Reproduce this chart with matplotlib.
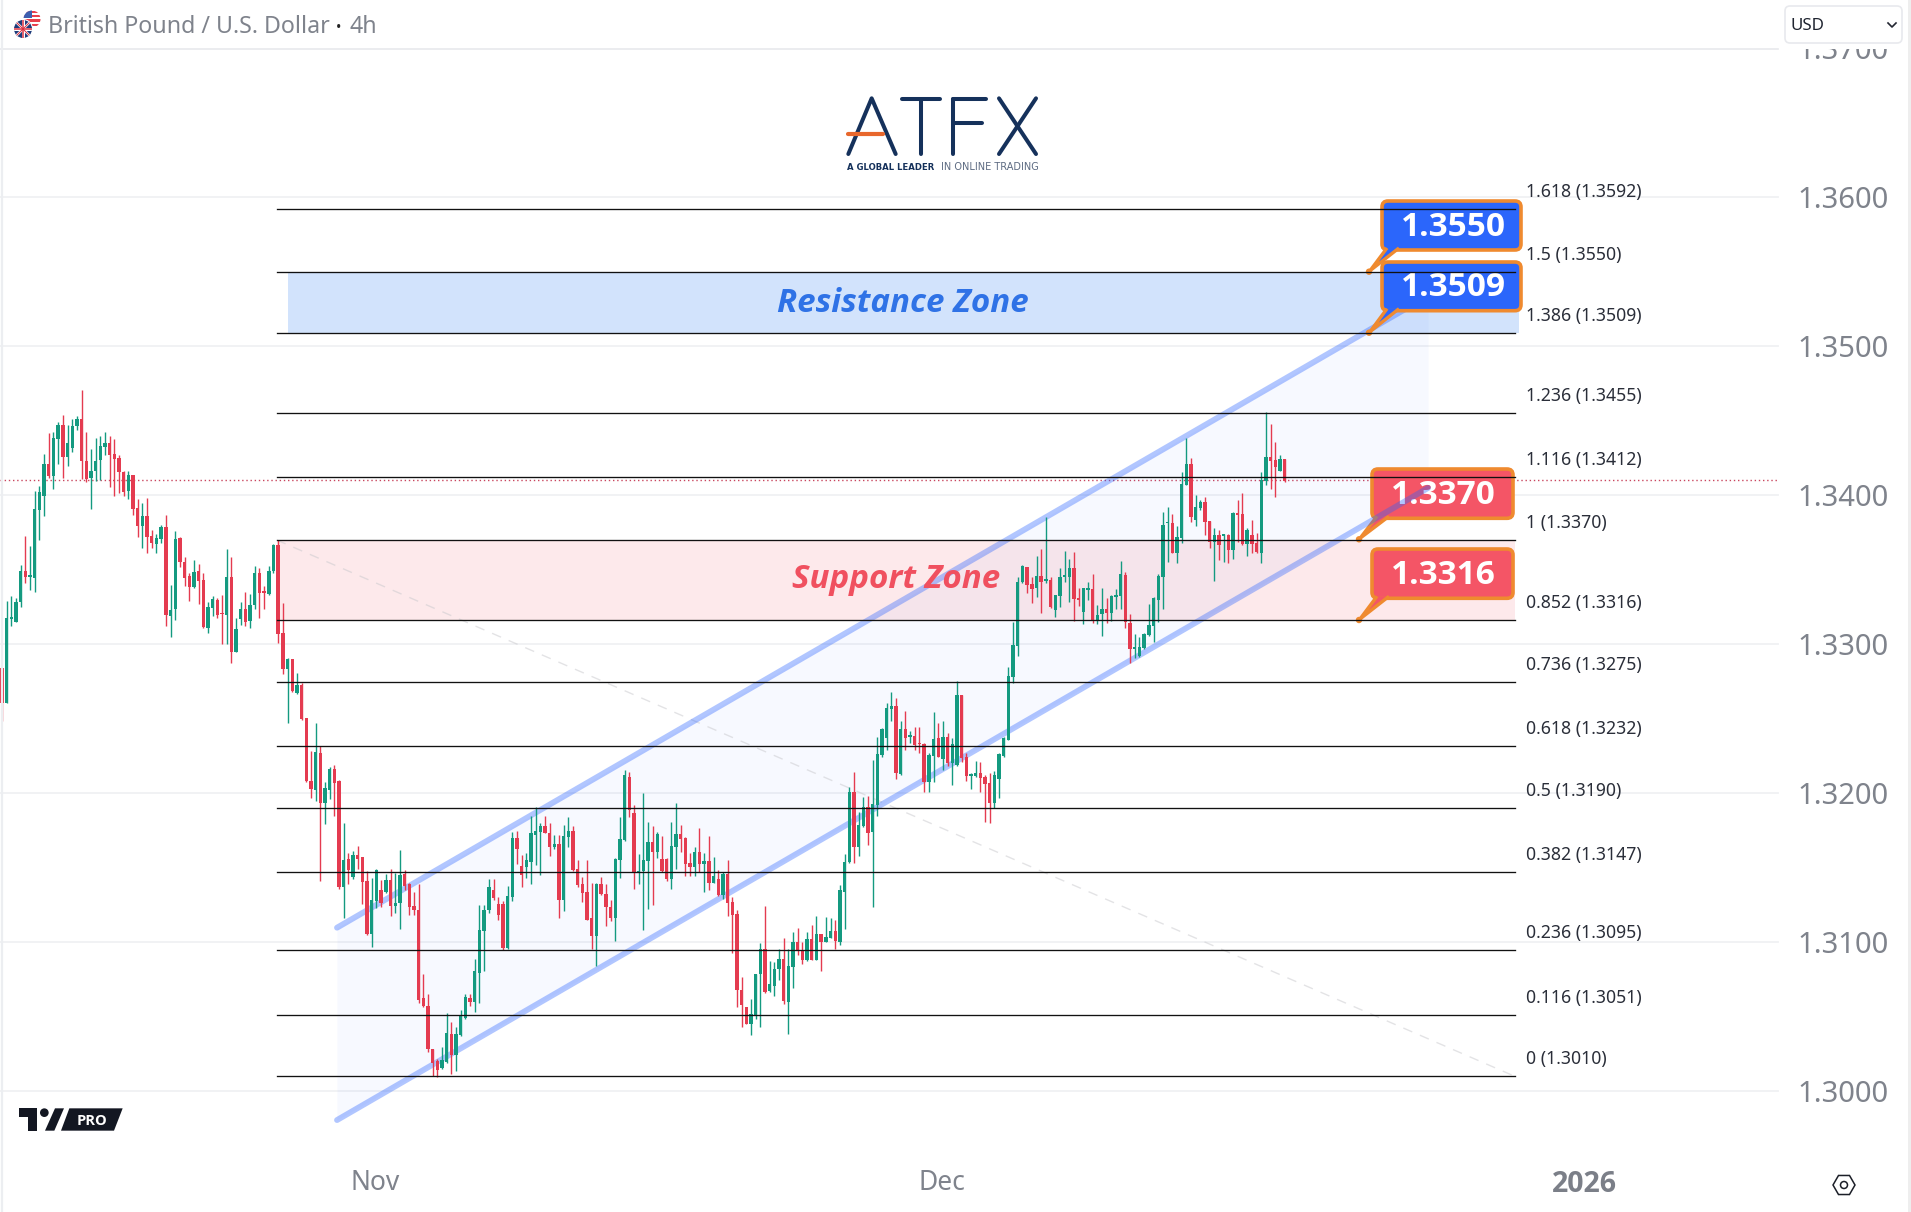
import numpy as np
import matplotlib
matplotlib.use("Agg")
import matplotlib.pyplot as plt
from matplotlib.patches import FancyBboxPatch, Polygon, Circle, Rectangle
from matplotlib.transforms import Affine2D

plt.rcParams['font.family'] = ['Noto Sans', 'DejaVu Sans']

# ---- candle values, in 1/100000 of a dollar ----
body_top = [
132840,133175,133182,133283,133489,133489,133455,133905,134025,134212,
134212,134382,134474,134474,134348,134465,134511,134511,134231,134166,
134231,134332,134354,134351,134280,134252,134157,134138,134138,133914,
133858,133858,133729,133711,133785,133785,133231,133708,133711,133551,
133458,133486,133495,133431,133249,133302,133298,133209,133455,133455,
133102,133240,133234,133262,133477,133477,133351,133495,133668,133668,
133074,132898,132898,132726,132726,132508,132083,132277,132271,132034,
132166,132166,132083,131554,131557,131585,131585,131572,131412,131283,
131486,131348,131415,131415,131261,131452,131458,131391,131243,131215,
130625,130575,130284,130201,130212,130394,130387,130387,130515,130634,
130629,130806,131082,131216,131371,131350,131256,131256,131310,131702,
131702,131512,131552,131731,131747,131783,131783,131736,131660,131657,
131713,131747,131745,131489,131391,131337,131160,131393,131391,131324,
131234,131559,131693,132123,132112,131870,131476,131552,131671,131671,
131727,131559,131559,131646,131727,131727,131702,131532,131606,131606,
131543,131543,131444,131422,131458,131458,131272,131189,130683,130566,
130522,130786,130952,130952,130719,130820,130887,130887,130840,131001,
131001,130947,131021,131021,131055,131055,131037,131073,131073,131350,
131536,132007,132007,131787,131906,131906,131926,132264,132432,132571,
132587,132587,132430,132430,132392,132385,132334,132332,132258,132367,
132370,132376,132376,132332,132661,132661,132246,132125,132139,132139,
132112,132067,132123,132264,132374,132788,132996,133421,133528,133517,
133405,133459,133459,133432,133430,133329,133454,133456,133510,133510,
133304,133376,133374,133369,133197,133237,133235,133324,133331,133472,
133465,133146,132984,132982,133067,133130,133309,133461,133801,133819,
133814,133720,134078,134210,134210,133919,133957,133957,133830,133734,
133734,133734,133734,133884,133875,133875,133767,133734,133678,134103,
134259,134255,134237,134242,134242]
body_bottom = [
132606,132606,133172,133148,133283,133449,133452,133443,133898,133994,
134129,134129,134375,134258,134258,134320,134462,134228,134111,134114,
134160,134234,134323,134268,134246,134154,134025,134031,133911,133794,
133791,133723,133683,133671,133705,133200,133188,133237,133551,133443,
133382,133382,133425,133114,133108,133243,133200,133203,133200,132951,
132951,133169,133148,133154,133262,133342,133345,133338,133489,133071,
132831,132837,132686,132674,132502,132083,132031,132025,131938,131938,
132021,132068,131369,131369,131486,131437,131560,131406,131058,131058,
131277,131261,131338,131246,131243,131261,131378,131237,131215,130615,
130575,130283,130190,130141,130156,130197,130246,130242,130380,130492,
130598,130600,130795,131075,131216,131294,131182,130965,130965,131306,
131626,131451,131503,131539,131722,131740,131736,131637,131637,131283,
131283,131704,131483,131384,131332,131153,131044,131044,131324,131234,
131164,131164,131552,131686,131888,131462,131467,131476,131545,131604,
131606,131478,131422,131422,131639,131693,131525,131507,131507,131525,
131525,131400,131400,131317,131317,131265,131182,130678,130578,130454,
130454,130510,130786,130667,130672,130708,130820,130607,130600,130835,
130947,130884,130880,130884,130884,131003,131003,131032,131008,131003,
131339,131536,131642,131642,131780,131736,131740,131922,132258,132374,
132569,132139,132130,132374,132381,132325,132329,132078,132074,132253,
132246,132228,132202,132202,132190,132235,132119,132119,132116,132103,
132063,131933,131933,132094,132253,132358,132783,132989,133421,133398,
133371,133376,133421,133425,133253,133230,133324,133452,133450,133302,
133300,133219,133365,133157,133157,133204,133208,133213,133320,133327,
133148,132971,132971,132922,132975,133060,133125,133298,133454,133814,
133615,133615,133714,134072,133857,133834,133917,133823,133689,133689,
133667,133727,133633,133633,133870,133673,133673,133673,133617,133615,
134096,134233,134192,134166,134096]
high = [
132840,133292,133323,133308,133532,133729,133662,134031,134062,134277,
134415,134425,134492,134542,134474,134511,134535,134708,134425,134308,
134385,134400,134425,134400,134378,134271,134160,134160,134138,133975,
133945,133982,133769,133742,133800,133871,133397,133760,133717,133585,
133477,133569,133538,133477,133283,133323,133311,133332,133637,133588,
133175,133286,133351,133338,133526,133514,133388,133526,133674,133698,
133280,132911,132901,132806,132738,132508,132283,132471,132317,132077,
132178,132191,132092,131803,131600,131612,131649,131575,131477,131431,
131492,131415,131458,131492,131468,131618,131483,131397,131338,131391,
130785,130652,130284,130219,130298,130528,130466,130432,130544,130656,
130656,130891,131250,131250,131422,131422,131301,131279,131377,131742,
131749,131586,131597,131848,131906,131798,131848,131798,131720,131720,
131787,131843,131780,131552,131440,131552,131395,131395,131436,131391,
131283,131563,131843,132157,132141,131922,131592,132004,131810,131780,
131742,131713,131563,131810,131933,131787,131704,131597,131637,131765,
131597,131713,131570,131485,131469,131552,131301,131220,130764,130566,
130618,130790,130996,131243,130873,130871,130958,131026,130952,131070,
131093,131003,131066,131115,131176,131059,131167,131164,131153,131384,
131590,132040,132141,131872,131978,131982,132224,132376,132437,132605,
132679,132641,132488,132549,132421,132444,132444,132336,132273,132544,
132470,132484,132403,132370,132755,132661,132273,132134,132217,132208,
132123,132134,132152,132269,132379,132847,133148,133454,133532,133521,
133454,133593,133638,133852,133454,133333,133510,133626,133570,133617,
133376,133380,133421,133470,133264,133376,133309,133331,133374,133557,
133488,133201,133067,133047,133074,133271,133315,133472,133888,133919,
133875,133794,134154,134383,134248,134002,133969,133987,133830,133779,
133767,133741,133738,133888,133969,134013,133779,133834,133749,134159,
134557,134479,134356,134271,134242]
low = [
132486,132606,133123,133148,133249,133412,133363,133348,133702,133858,
134117,134043,134209,134117,134194,134292,134440,134108,134086,133908,
134098,134105,134271,134055,133994,134018,133994,133975,133871,133717,
133649,133612,133643,133612,133683,133120,133052,133163,133520,133391,
133289,133375,133268,133108,133074,133188,133178,133000,133000,132877,
132948,133129,133123,133108,133237,133178,133240,133329,133477,133009,
132800,132474,132683,132665,132492,132077,131969,131951,131409,131797,
131963,131846,131360,131163,131391,131428,131495,131255,131046,130969,
131231,131237,131329,131178,131200,131089,131348,131185,131185,130591,
130569,130261,130103,130096,130152,130190,130116,130134,130374,130488,
130571,130533,130593,130808,131198,131283,131149,130947,130958,131279,
131525,131368,131429,131391,131518,131453,131731,131579,131624,131164,
131212,131637,131478,131368,131272,131149,130954,130840,131317,131111,
131142,131008,131433,131682,131843,131357,131388,131082,131223,131247,
131563,131474,131413,131357,131489,131608,131447,131447,131444,131474,
131339,131350,131395,131310,131288,131176,130929,130566,130432,130450,
130376,130488,130432,130663,130667,130640,130746,130584,130383,130694,
130914,130853,130875,130880,130880,130808,130999,131026,130954,130981,
131088,131530,131534,131579,131772,131653,131238,131850,132242,132291,
132488,132099,132123,132291,132340,132291,132273,132011,132011,132074,
132242,132157,132184,132056,132184,132213,132085,132029,132112,132011,
131810,131798,131904,131971,132242,132358,132743,132922,133414,133347,
133280,133315,133213,133409,133244,133186,133248,133421,133286,133159,
133260,133134,133298,133141,133137,133058,133141,133159,133235,133235,
133107,132877,132911,132913,132971,133056,133018,133152,133237,133555,
133611,133548,133682,134067,133823,133794,133902,133734,133649,133427,
133566,133555,133548,133573,133689,133669,133593,133615,133615,133548,
134069,134040,133991,134163,134092]
rising = [
0,1,1,1,1,0,1,1,1,1, 0,1,1,0,1,1,1,0,0,1, 1,1,1,0,0,0,0,1,0,0,
1,0,0,1,1,0,1,1,0,0, 0,1,0,0,1,1,0,0,1,0, 1,1,0,1,1,0,0,1,1,0,
0,1,0,1,0,0,0,1,0,1, 1,0,0,1,0,1,0,0,0,1, 1,0,1,0,1,1,0,0,0,0,
0,0,0,0,1,1,0,1,1,1, 0,1,1,1,1,0,0,0,1,1, 0,0,1,1,1,1,0,0,1,0,
1,1,0,0,0,0,0,1,0,0, 0,1,1,1,0,0,1,1,1,0, 1,0,0,1,1,0,0,0,1,0,
1,0,1,0,1,0,0,0,0,0, 1,1,1,0,1,1,1,0,1,1, 0,0,1,0,1,0,1,1,0,1,
1,1,0,1,1,0,1,1,1,1, 1,0,1,0,1,0,0,0,1,1, 0,1,0,1,1,0,0,1,1,0,
0,0,1,1,1,1,1,1,1,0, 0,1,0,1,0,1,1,1,1,0, 0,1,1,0,1,1,0,1,1,1,
0,0,1,1,1,1,1,1,1,1, 0,1,1,1,0,1,1,0,0,1, 0,1,0,1,0,0,1,0,0,1,
1,0,0,1,0]

# ---- Fibonacci, axis and annotation values ----
fib_ratios = ["1.618","1.5","1.386","1.236","1.116","1","0.852","0.736","0.618","0.5","0.382","0.236","0.116","0"]
fib_prices = [1.3592,1.3550,1.3509,1.3455,1.3412,1.3370,1.3316,1.3275,1.3232,1.3190,1.3147,1.3095,1.3051,1.3010]
price_ticks = [1.30,1.31,1.32,1.33,1.34,1.35,1.36,1.37]
last_price = 1.3410
channel_upper = [1.31098, 1.35338]
channel_lower = [1.29807, 1.34049]
time_labels = ["Nov","Dec","2026"]
callout_values = ["1.3550","1.3509","1.3370","1.3316"]

W, H = 1911, 1212
STEP, X0 = 4.681, 2.0
PY0, PYS = 495.3, 14900.0   # pixel row of 1.34 and pixels per dollar
def ix(px): return (px - X0) / STEP

fig = plt.figure(figsize=(W/100, H/100), dpi=100, facecolor='white')
ax = fig.add_axes([0, 0, 1, 1])
ax.set_xlim(ix(0), ix(W))
ax.set_ylim(1.34 - (H - PY0)/PYS, 1.34 + PY0/PYS)
ax.axis('off')
px = Affine2D().scale(1, -1).translate(0, H)

GREEN, RED = '#149a80', '#e43b50'
AXC = '#7f838c'

# grid and price labels
for p in price_ticks:
    ax.plot([ix(0), ix(1778)], [p, p], color='#f0f1f3', lw=1.3, zorder=0.5)
    ax.text(ix(1889), p - 3/PYS, f"{p:.4f}", ha='right', va='center', fontsize=21, color=AXC, zorder=0.6)
ax.plot([ix(0), ix(1778)], [last_price]*2, color='#c9465e', lw=1.0, ls=(0, (1, 2)), zorder=0.7)

# zones
fib_l, fib_r = ix(276.7), ix(1515)
ax.fill_between([ix(287.6), ix(1518.6)], 1.3509, 1.3550, color='#1e74f0', alpha=0.2, lw=0, zorder=1)
ax.fill_between([fib_l, fib_r], 1.3316, 1.3370, color='#f23645', alpha=0.105, lw=0, zorder=1)
ch_x = [ix(337), ix(1428)]
ax.fill_between(ch_x, channel_lower, channel_upper, color='#2962ff', alpha=0.035, lw=0, zorder=1.1)
ax.plot([fib_l, fib_r], [1.3370, 1.3010], color='#c8c8cc', lw=1.0, ls=(0, (7, 6)), alpha=0.5, zorder=1.2)

def callout(x0, y0, x1, y1, tipx, tipy, tcx, tcy, label, fc, z):
    ax.add_patch(FancyBboxPatch((x0, y0), x1-x0, y1-y0, boxstyle='round,pad=0,rounding_size=6',
                                fc=fc, ec='#ef8a2f', lw=2.6, transform=px, zorder=z, clip_on=False))
    ax.add_patch(Polygon([(x0+5, y1-2), (tipx+1, tipy-1), (x0+17, y1-2)], closed=False, fc=fc,
                         ec='#ef8a2f', lw=2.4, transform=px, zorder=z+0.01))
    ax.add_patch(Circle((tipx, tipy), 3.2, fc='#ef8a2f', ec='none', transform=px, zorder=z+0.02))
    ax.text(tcx, tcy, label, transform=px, color='white', fontsize=24, fontfamily='Open Sans',
            fontweight='bold', ha='center', va='center', zorder=z+0.03)

BLUE, SALMON = '#2b66fb', '#f45566'
callout(1372, 549, 1513, 598.3, 1359, 620, 1443, 575, callout_values[3], SALMON, 2)
callout(1372, 469, 1513, 518.3, 1359, 539.3, 1443, 495, callout_values[2], SALMON, 2)

# channel
ax.plot(ch_x, channel_upper, color='#2962ff', alpha=0.36, lw=4.2, solid_capstyle='round', zorder=3)
ax.plot(ch_x, channel_lower, color='#2962ff', alpha=0.36, lw=4.2, solid_capstyle='round', zorder=3)

# candles
hi = np.array(high)/1e5; lo = np.array(low)/1e5
top = np.array(body_top)/1e5; bot = np.array(body_bottom)/1e5
idx = np.arange(len(hi))
cols = [GREEN if r else RED for r in rising]
ax.vlines(idx, lo, hi, colors=cols, lw=1.0, zorder=4)
ax.bar(idx, np.maximum(top-bot, 0.00010), bottom=bot, width=0.72, color=cols, lw=0, zorder=4.1)

# blue callouts
callout(1382, 201, 1521, 250, 1369, 271.7, 1453, 227, callout_values[0], BLUE, 6)
callout(1382, 262, 1521, 310.7, 1369, 332.7, 1453, 288, callout_values[1], BLUE, 6)

# fib lines and labels
for r, p in zip(fib_ratios, fib_prices):
    ax.plot([fib_l, fib_r], [p, p], color='#111111', lw=0.95, zorder=7)
    ax.text(ix(1526), p + 17/PYS, f"{r} ({p:.4f})", ha='left', va='center', fontsize=12.7,
            color='#2a2e39', zorder=7)

ax.text(902.5, 303, "Resistance Zone", transform=px, color='#2f72e6', fontsize=23.9, fontfamily='Open Sans',
        fontweight='bold', fontstyle='italic', ha='center', va='center', zorder=5)
ax.text(896, 580, "Support Zone", transform=px, color='#f0505f', fontsize=23.9, fontfamily='Open Sans',
        fontweight='bold', fontstyle='italic', ha='center', va='center', zorder=5)

# header strip
ax.add_patch(Rectangle((0, 0), W, 49, fc='white', ec='none', transform=px, zorder=8))
ax.plot([0, 1778], [49, 49], color='#e8e9ec', lw=1.2, transform=px, zorder=8.1)
ax.plot([1.5, 1.5], [0, H], color='#eceef1', lw=1.6, transform=px, zorder=8.1)
ax.add_patch(Rectangle((1908, 0), 3, H, fc='#eeeeee', ec='none', transform=px, zorder=8.1))
ax.text(47.5, 27, "British Pound / U.S. Dollar", transform=px, fontsize=16.7, color=AXC, ha='left', va='center', zorder=9)
ax.text(339, 28, "•", transform=px, fontsize=10, color='#222222', ha='center', va='center', zorder=9)
ax.text(349, 27, "4h", transform=px, fontsize=16.7, color=AXC, ha='left', va='center', zorder=9)

# flags
us = Circle((32, 19), 8.5, transform=px, fc='white', ec='none', zorder=9)
ax.add_patch(us)
for k, yy in enumerate(np.arange(11, 28, 4.2)):
    s = ax.add_patch(Rectangle((23, yy), 18, 2.2, fc='#e8404c', ec='none', transform=px, zorder=9.1))
    s.set_clip_path(us)
s = ax.add_patch(Rectangle((23, 10), 9, 8, fc='#3c5fb0', ec='none', transform=px, zorder=9.2)); s.set_clip_path(us)
ax.add_patch(Circle((23, 29), 10, transform=px, fc='white', ec='none', zorder=9.3))
uk = Circle((23, 29), 9, transform=px, fc='#1d3b7a', ec='none', zorder=9.4)
ax.add_patch(uk)
for (xa, ya, xb, yb, c, w) in [(14,20,32,38,'white',2.4),(14,38,32,20,'white',2.4),(14,29,32,29,'white',3.0),(23,20,23,38,'white',3.0),
                              (14,20,32,38,'#d83040',1.0),(14,38,32,20,'#d83040',1.0),(14,29,32,29,'#d83040',1.5),(23,20,23,38,'#d83040',1.5)]:
    l, = ax.plot([xa, xb], [ya, yb], color=c, lw=w*0.72, transform=px, zorder=9.5)
    l.set_clip_path(uk)

# USD selector
ax.add_patch(FancyBboxPatch((1785, 6), 117, 37, boxstyle='round,pad=0,rounding_size=5', fc='white', ec='#e8e9ed', lw=1.2,
                            transform=px, zorder=9))
ax.text(1790, 26, "USD", transform=px, fontsize=12.2, color='#1f2430', ha='left', va='center', zorder=9.1)
ax.plot([1888, 1892, 1896], [23, 27, 23], color='#222631', lw=1.2, transform=px, zorder=9.1)

# logo
NAVY = '#15315b'
def lz(xs, ys): return [800 + v/3 for v in xs], [80 + v/3 for v in ys]
for xs, ys in [((145,215,287),(222,55,222)), ((305,420),(58,58)), ((362,362),(58,222)), ((458,458),(222,58)),
               ((458,557),(58,58)), ((458,547),(128,128)), ((597,708),(55,222)), ((708,597),(55,222))]:
    a, b = lz(xs, ys)
    ax.plot(a, b, color=NAVY, lw=2.9, solid_capstyle='round', solid_joinstyle='round', transform=px, zorder=9)
a, b = lz((145,250),(163,163))
ax.plot(a, b, color='#e8672c', lw=3.0, solid_capstyle='round', transform=px, zorder=9.1)
ax.text(847, 167, "A GLOBAL LEADER", transform=px, fontsize=6.15, fontfamily='DejaVu Sans', fontweight='bold', color=NAVY, ha='left', va='center', zorder=9)
ax.text(941, 167, "IN ONLINE TRADING", transform=px, fontsize=7.0, fontfamily='DejaVu Sans', color='#5d6b82', ha='left', va='center', zorder=9)

# TradingView badge
def tz(pts): return [(v[0]/3, 1080 + v[1]/3) for v in pts]
TV = '#131722'
ax.add_patch(Polygon(tz([(57,85),(112,85),(112,152),(85,152),(85,112),(57,112)]), fc=TV, ec='none', transform=px, zorder=9))
ax.add_patch(Circle((133/3, 1080+98/3), 13/3, fc=TV, ec='none', transform=px, zorder=9))
ax.add_patch(Polygon(tz([(165,85),(192,85),(163,152),(135,152)]), fc=TV, ec='none', transform=px, zorder=9))
ax.add_patch(Polygon(tz([(208,85),(368,85),(342,152),(183,152)]), fc=TV, ec='none', transform=px, zorder=9))
ax.text(277/3, 1081+120/3, "PRO", transform=px, fontsize=10.5, fontfamily='Open Sans', fontweight='bold', color='white', ha='center', va='center', zorder=9.1)

# time axis
ax.text(375, 1183, time_labels[0], transform=px, fontsize=19, color=AXC, ha='center', va='center', zorder=9)
ax.text(942, 1183, time_labels[1], transform=px, fontsize=19, color=AXC, ha='center', va='center', zorder=9)
ax.text(1584, 1184, time_labels[2], transform=px, fontsize=20.5, fontfamily='Open Sans', fontweight='bold', color='#7b7f88', ha='center', va='center', zorder=9)

# settings glyph
t = np.linspace(0, 2*np.pi, 7)
ax.add_patch(Polygon(np.c_[1844 + 11*np.cos(t), 1185 + 11*np.sin(t)], fc='white', ec='#1c1f28', lw=1.1, transform=px, zorder=9))
ax.add_patch(Circle((1844, 1185), 3.5, fc='white', ec='#1c1f28', lw=1.1, transform=px, zorder=9.1))

fig.savefig('out.png', dpi=100)
